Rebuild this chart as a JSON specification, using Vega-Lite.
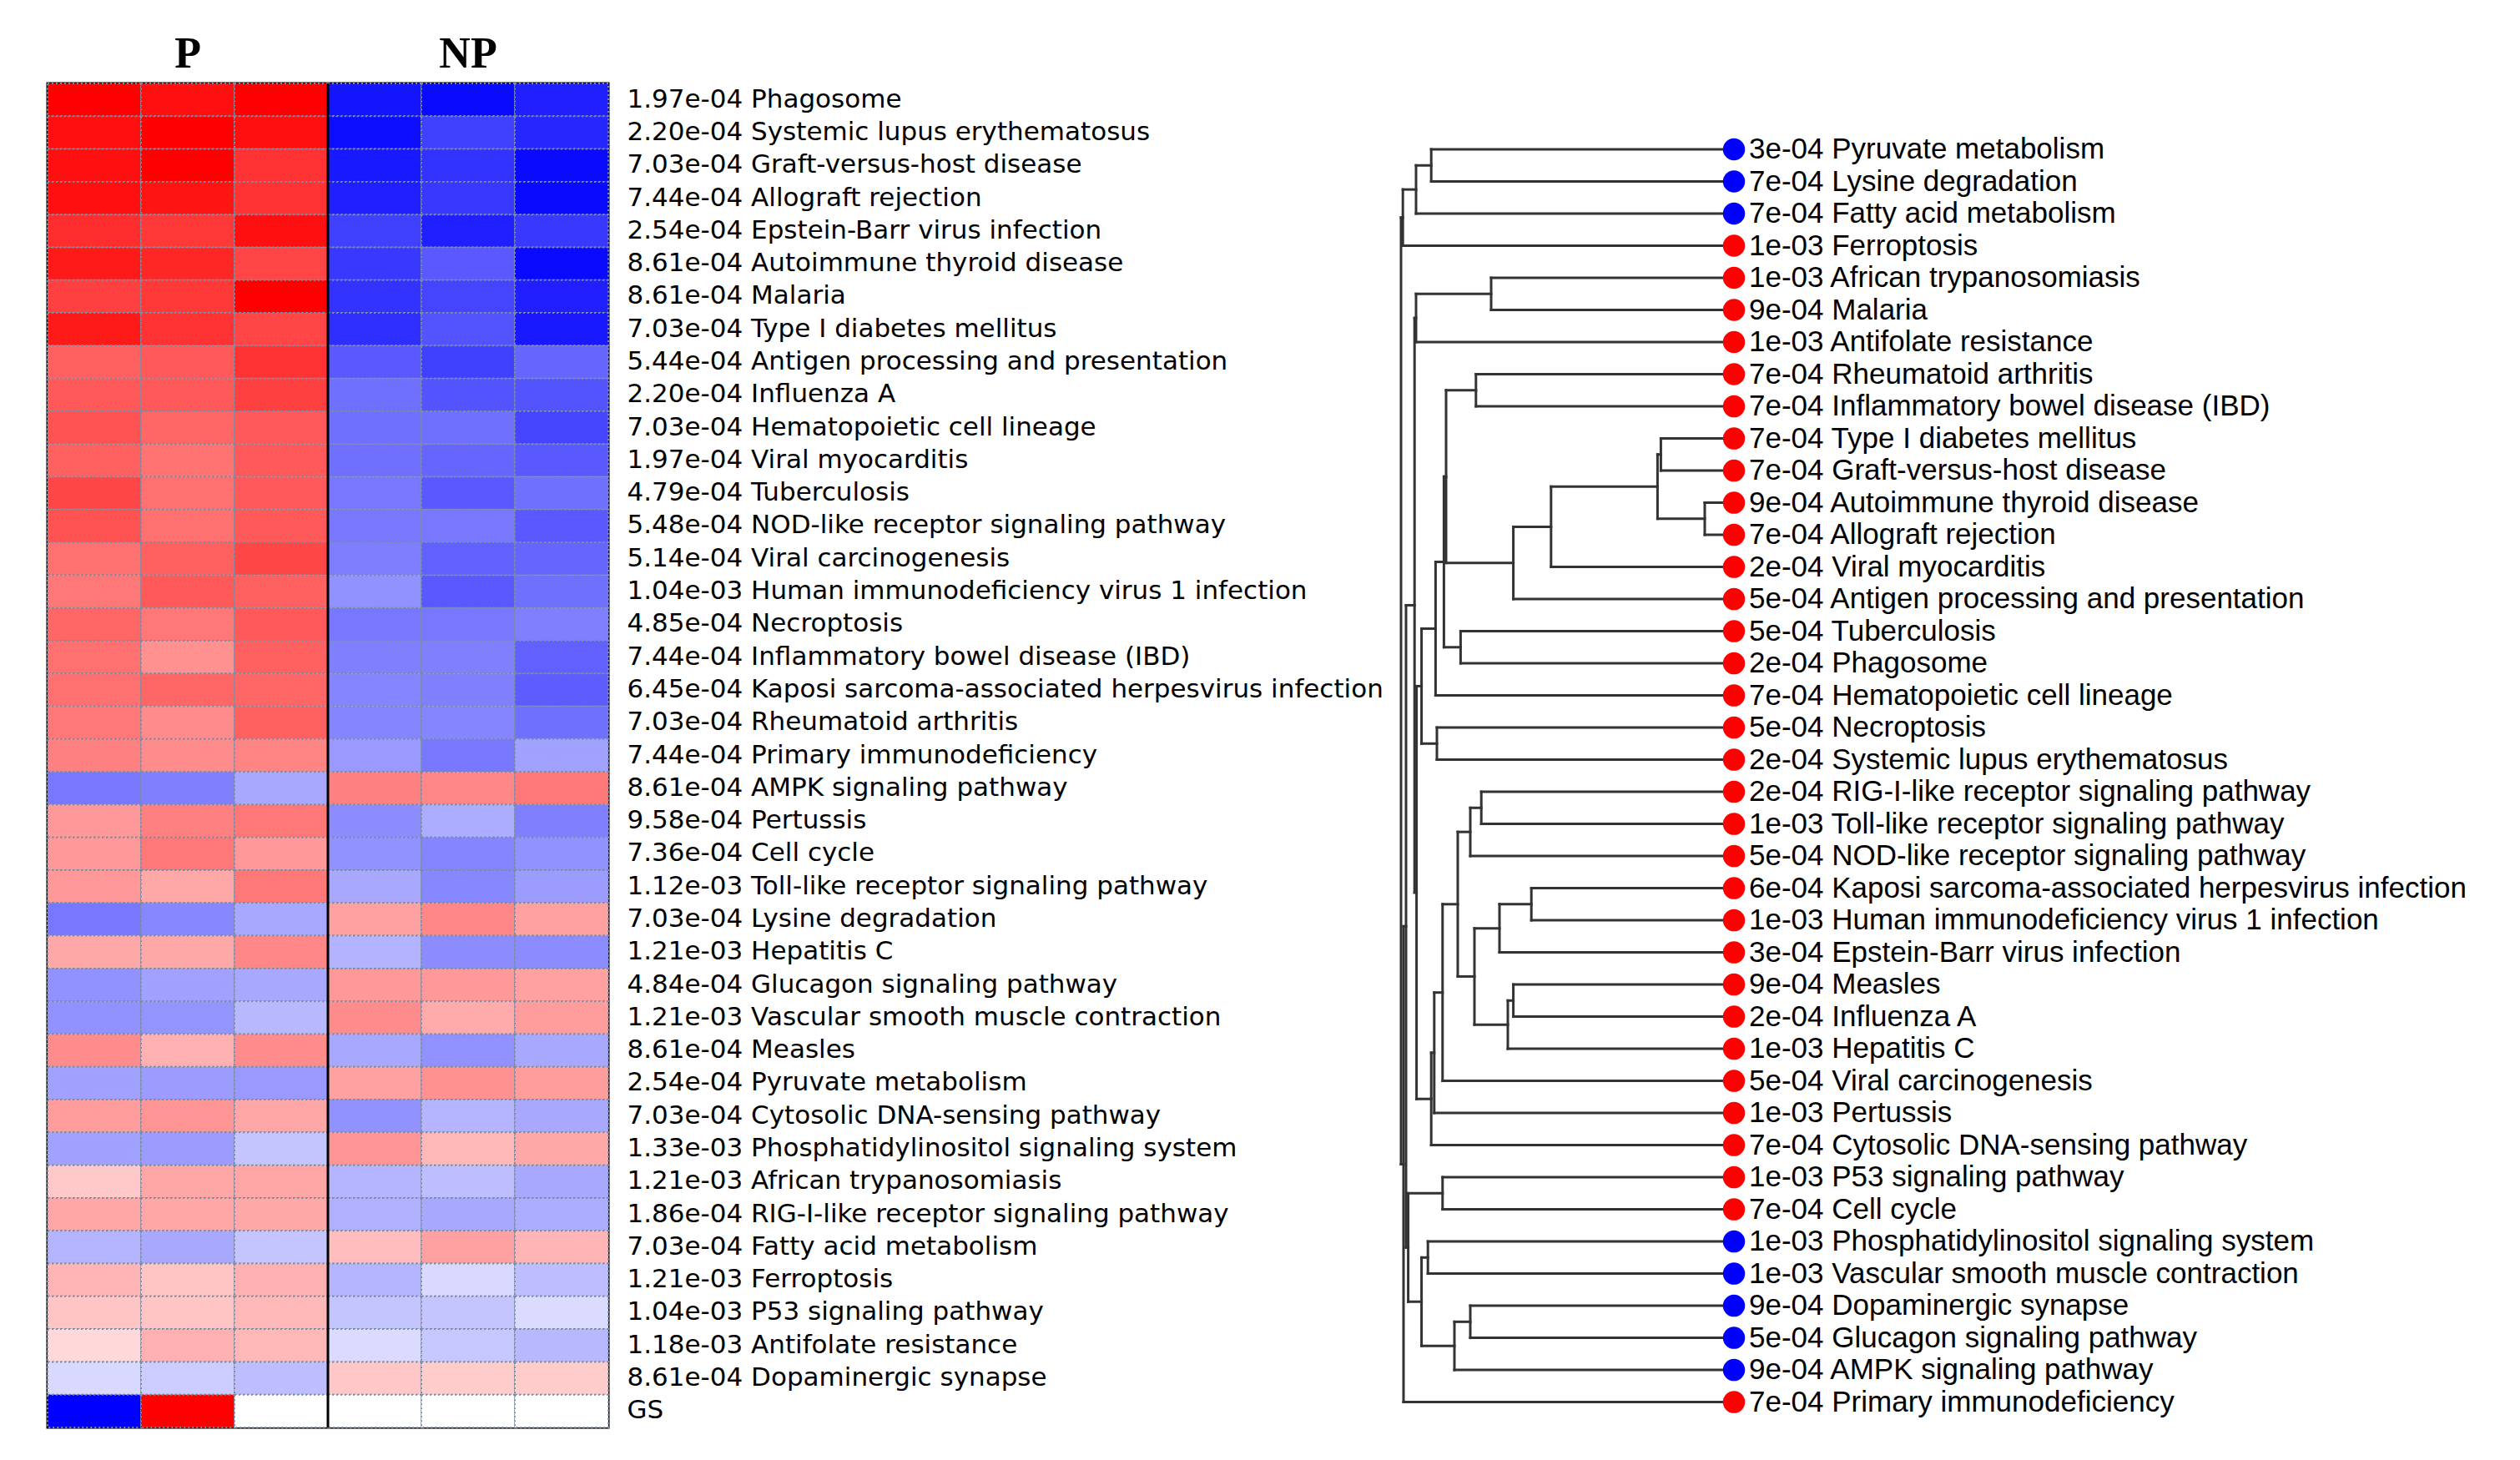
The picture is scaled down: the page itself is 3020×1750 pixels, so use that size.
{
  "$schema": "https://vega.github.io/schema/vega-lite/v6.json",
  "background": "white",
  "padding": {"left": 54, "top": 36, "right": 5, "bottom": 5},
  "bounds": "flush",
  "spacing": 933,
  "config": {"view": {"stroke": null}},
  "datasets": {
    "heat": [
      {"label": "1.97e-04 Phagosome", "P1": 1, "P2": 0.94, "P3": 1, "NP1": -0.92, "NP2": -0.96, "NP3": -0.88},
      {"label": "2.20e-04 Systemic lupus erythematosus", "P1": 0.94, "P2": 1, "P3": 0.94, "NP1": -0.95, "NP2": -0.75, "NP3": -0.85},
      {"label": "7.03e-04 Graft-versus-host disease", "P1": 0.94, "P2": 1, "P3": 0.8, "NP1": -0.9, "NP2": -0.8, "NP3": -0.96},
      {"label": "7.44e-04 Allograft rejection", "P1": 0.94, "P2": 0.92, "P3": 0.8, "NP1": -0.88, "NP2": -0.78, "NP3": -0.96},
      {"label": "2.54e-04 Epstein-Barr virus infection", "P1": 0.82, "P2": 0.78, "P3": 0.94, "NP1": -0.75, "NP2": -0.88, "NP3": -0.78},
      {"label": "8.61e-04 Autoimmune thyroid disease", "P1": 0.9, "P2": 0.85, "P3": 0.73, "NP1": -0.78, "NP2": -0.65, "NP3": -0.96},
      {"label": "8.61e-04 Malaria", "P1": 0.75, "P2": 0.78, "P3": 1, "NP1": -0.8, "NP2": -0.73, "NP3": -0.88},
      {"label": "7.03e-04 Type I diabetes mellitus", "P1": 0.9, "P2": 0.8, "P3": 0.73, "NP1": -0.82, "NP2": -0.67, "NP3": -0.9},
      {"label": "5.44e-04 Antigen processing and presentation", "P1": 0.62, "P2": 0.65, "P3": 0.8, "NP1": -0.65, "NP2": -0.75, "NP3": -0.6},
      {"label": "2.20e-04 Influenza A", "P1": 0.65, "P2": 0.65, "P3": 0.75, "NP1": -0.56, "NP2": -0.67, "NP3": -0.67},
      {"label": "7.03e-04 Hematopoietic cell lineage", "P1": 0.68, "P2": 0.6, "P3": 0.65, "NP1": -0.56, "NP2": -0.56, "NP3": -0.73},
      {"label": "1.97e-04 Viral myocarditis", "P1": 0.62, "P2": 0.55, "P3": 0.65, "NP1": -0.56, "NP2": -0.6, "NP3": -0.65},
      {"label": "4.79e-04 Tuberculosis", "P1": 0.72, "P2": 0.56, "P3": 0.65, "NP1": -0.53, "NP2": -0.65, "NP3": -0.56},
      {"label": "5.48e-04 NOD-like receptor signaling pathway", "P1": 0.68, "P2": 0.56, "P3": 0.65, "NP1": -0.53, "NP2": -0.53, "NP3": -0.65},
      {"label": "5.14e-04 Viral carcinogenesis", "P1": 0.56, "P2": 0.62, "P3": 0.72, "NP1": -0.51, "NP2": -0.62, "NP3": -0.6},
      {"label": "1.04e-03 Human immunodeficiency virus 1 infection", "P1": 0.53, "P2": 0.65, "P3": 0.62, "NP1": -0.43, "NP2": -0.65, "NP3": -0.56},
      {"label": "4.85e-04 Necroptosis", "P1": 0.6, "P2": 0.53, "P3": 0.65, "NP1": -0.53, "NP2": -0.53, "NP3": -0.5},
      {"label": "7.44e-04 Inflammatory bowel disease (IBD)", "P1": 0.56, "P2": 0.43, "P3": 0.62, "NP1": -0.5, "NP2": -0.5, "NP3": -0.62},
      {"label": "6.45e-04 Kaposi sarcoma-associated herpesvirus infection", "P1": 0.56, "P2": 0.6, "P3": 0.6, "NP1": -0.48, "NP2": -0.5, "NP3": -0.64},
      {"label": "7.03e-04 Rheumatoid arthritis", "P1": 0.53, "P2": 0.45, "P3": 0.62, "NP1": -0.48, "NP2": -0.48, "NP3": -0.56},
      {"label": "7.44e-04 Primary immunodeficiency", "P1": 0.5, "P2": 0.45, "P3": 0.48, "NP1": -0.4, "NP2": -0.53, "NP3": -0.37},
      {"label": "8.61e-04 AMPK signaling pathway", "P1": -0.53, "P2": -0.5, "P3": -0.34, "NP1": 0.5, "NP2": 0.47, "NP3": 0.53},
      {"label": "9.58e-04 Pertussis", "P1": 0.4, "P2": 0.5, "P3": 0.53, "NP1": -0.45, "NP2": -0.32, "NP3": -0.5},
      {"label": "7.36e-04 Cell cycle", "P1": 0.4, "P2": 0.53, "P3": 0.4, "NP1": -0.43, "NP2": -0.48, "NP3": -0.43},
      {"label": "1.12e-03 Toll-like receptor signaling pathway", "P1": 0.4, "P2": 0.34, "P3": 0.53, "NP1": -0.34, "NP2": -0.47, "NP3": -0.39},
      {"label": "7.03e-04 Lysine degradation", "P1": -0.53, "P2": -0.47, "P3": -0.34, "NP1": 0.37, "NP2": 0.47, "NP3": 0.37},
      {"label": "1.21e-03 Hepatitis C", "P1": 0.34, "P2": 0.34, "P3": 0.47, "NP1": -0.3, "NP2": -0.45, "NP3": -0.45},
      {"label": "4.84e-04 Glucagon signaling pathway", "P1": -0.43, "P2": -0.37, "P3": -0.34, "NP1": 0.4, "NP2": 0.4, "NP3": 0.37},
      {"label": "1.21e-03 Vascular smooth muscle contraction", "P1": -0.43, "P2": -0.42, "P3": -0.28, "NP1": 0.45, "NP2": 0.33, "NP3": 0.39},
      {"label": "8.61e-04 Measles", "P1": 0.45, "P2": 0.31, "P3": 0.45, "NP1": -0.34, "NP2": -0.43, "NP3": -0.34},
      {"label": "2.54e-04 Pyruvate metabolism", "P1": -0.37, "P2": -0.39, "P3": -0.4, "NP1": 0.37, "NP2": 0.43, "NP3": 0.39},
      {"label": "7.03e-04 Cytosolic DNA-sensing pathway", "P1": 0.39, "P2": 0.42, "P3": 0.35, "NP1": -0.43, "NP2": -0.29, "NP3": -0.34},
      {"label": "1.33e-03 Phosphatidylinositol signaling system", "P1": -0.37, "P2": -0.39, "P3": -0.23, "NP1": 0.42, "NP2": 0.28, "NP3": 0.34},
      {"label": "1.21e-03 African trypanosomiasis", "P1": 0.21, "P2": 0.35, "P3": 0.35, "NP1": -0.29, "NP2": -0.26, "NP3": -0.34},
      {"label": "1.86e-04 RIG-I-like receptor signaling pathway", "P1": 0.35, "P2": 0.35, "P3": 0.34, "NP1": -0.31, "NP2": -0.34, "NP3": -0.32},
      {"label": "7.03e-04 Fatty acid metabolism", "P1": -0.29, "P2": -0.34, "P3": -0.23, "NP1": 0.26, "NP2": 0.37, "NP3": 0.29},
      {"label": "1.21e-03 Ferroptosis", "P1": 0.29, "P2": 0.23, "P3": 0.31, "NP1": -0.29, "NP2": -0.15, "NP3": -0.26},
      {"label": "1.04e-03 P53 signaling pathway", "P1": 0.23, "P2": 0.23, "P3": 0.28, "NP1": -0.23, "NP2": -0.23, "NP3": -0.14},
      {"label": "1.18e-03 Antifolate resistance", "P1": 0.15, "P2": 0.31, "P3": 0.28, "NP1": -0.14, "NP2": -0.22, "NP3": -0.28},
      {"label": "8.61e-04 Dopaminergic synapse", "P1": -0.15, "P2": -0.2, "P3": -0.26, "NP1": 0.22, "NP2": 0.2, "NP3": 0.2},
      {"label": "GS", "P1": -1, "P2": 1, "P3": 0, "NP1": 0, "NP2": 0, "NP3": 0}
    ],
    "leaves": [
      {"pos": 1, "label": "3e-04 Pyruvate metabolism", "dir": "down"},
      {"pos": 2, "label": "7e-04 Lysine degradation", "dir": "down"},
      {"pos": 3, "label": "7e-04 Fatty acid metabolism", "dir": "down"},
      {"pos": 4, "label": "1e-03 Ferroptosis", "dir": "up"},
      {"pos": 5, "label": "1e-03 African trypanosomiasis", "dir": "up"},
      {"pos": 6, "label": "9e-04 Malaria", "dir": "up"},
      {"pos": 7, "label": "1e-03 Antifolate resistance", "dir": "up"},
      {"pos": 8, "label": "7e-04 Rheumatoid arthritis", "dir": "up"},
      {"pos": 9, "label": "7e-04 Inflammatory bowel disease (IBD)", "dir": "up"},
      {"pos": 10, "label": "7e-04 Type I diabetes mellitus", "dir": "up"},
      {"pos": 11, "label": "7e-04 Graft-versus-host disease", "dir": "up"},
      {"pos": 12, "label": "9e-04 Autoimmune thyroid disease", "dir": "up"},
      {"pos": 13, "label": "7e-04 Allograft rejection", "dir": "up"},
      {"pos": 14, "label": "2e-04 Viral myocarditis", "dir": "up"},
      {"pos": 15, "label": "5e-04 Antigen processing and presentation", "dir": "up"},
      {"pos": 16, "label": "5e-04 Tuberculosis", "dir": "up"},
      {"pos": 17, "label": "2e-04 Phagosome", "dir": "up"},
      {"pos": 18, "label": "7e-04 Hematopoietic cell lineage", "dir": "up"},
      {"pos": 19, "label": "5e-04 Necroptosis", "dir": "up"},
      {"pos": 20, "label": "2e-04 Systemic lupus erythematosus", "dir": "up"},
      {"pos": 21, "label": "2e-04 RIG-I-like receptor signaling pathway", "dir": "up"},
      {"pos": 22, "label": "1e-03 Toll-like receptor signaling pathway", "dir": "up"},
      {"pos": 23, "label": "5e-04 NOD-like receptor signaling pathway", "dir": "up"},
      {"pos": 24, "label": "6e-04 Kaposi sarcoma-associated herpesvirus infection", "dir": "up"},
      {"pos": 25, "label": "1e-03 Human immunodeficiency virus 1 infection", "dir": "up"},
      {"pos": 26, "label": "3e-04 Epstein-Barr virus infection", "dir": "up"},
      {"pos": 27, "label": "9e-04 Measles", "dir": "up"},
      {"pos": 28, "label": "2e-04 Influenza A", "dir": "up"},
      {"pos": 29, "label": "1e-03 Hepatitis C", "dir": "up"},
      {"pos": 30, "label": "5e-04 Viral carcinogenesis", "dir": "up"},
      {"pos": 31, "label": "1e-03 Pertussis", "dir": "up"},
      {"pos": 32, "label": "7e-04 Cytosolic DNA-sensing pathway", "dir": "up"},
      {"pos": 33, "label": "1e-03 P53 signaling pathway", "dir": "up"},
      {"pos": 34, "label": "7e-04 Cell cycle", "dir": "up"},
      {"pos": 35, "label": "1e-03 Phosphatidylinositol signaling system", "dir": "down"},
      {"pos": 36, "label": "1e-03 Vascular smooth muscle contraction", "dir": "down"},
      {"pos": 37, "label": "9e-04 Dopaminergic synapse", "dir": "down"},
      {"pos": 38, "label": "5e-04 Glucagon signaling pathway", "dir": "down"},
      {"pos": 39, "label": "9e-04 AMPK signaling pathway", "dir": "down"},
      {"pos": 40, "label": "7e-04 Primary immunodeficiency", "dir": "up"}
    ],
    "nodes": [
      {"h": 90.7, "y1": 1, "h1": 0, "y2": 2, "h2": 0},
      {"h": 95.25, "y1": 1.5, "h1": 90.7, "y2": 3, "h2": 0},
      {"h": 99.2, "y1": 2.25, "h1": 95.25, "y2": 4, "h2": 0},
      {"h": 72.75, "y1": 5, "h1": 0, "y2": 6, "h2": 0},
      {"h": 95.25, "y1": 5.5, "h1": 72.75, "y2": 7, "h2": 0},
      {"h": 77.3, "y1": 8, "h1": 0, "y2": 9, "h2": 0},
      {"h": 21.9, "y1": 10, "h1": 0, "y2": 11, "h2": 0},
      {"h": 8.75, "y1": 12, "h1": 0, "y2": 13, "h2": 0},
      {"h": 22.9, "y1": 10.5, "h1": 21.9, "y2": 12.5, "h2": 8.75},
      {"h": 54.8, "y1": 11.5, "h1": 22.9, "y2": 14, "h2": 0},
      {"h": 66.1, "y1": 12.75, "h1": 54.8, "y2": 15, "h2": 0},
      {"h": 86.25, "y1": 8.5, "h1": 77.3, "y2": 13.875, "h2": 66.1},
      {"h": 81.9, "y1": 16, "h1": 0, "y2": 17, "h2": 0},
      {"h": 86.9, "y1": 11.188, "h1": 86.25, "y2": 16.5, "h2": 81.9},
      {"h": 89.4, "y1": 13.844, "h1": 86.9, "y2": 18, "h2": 0},
      {"h": 89.0, "y1": 19, "h1": 0, "y2": 20, "h2": 0},
      {"h": 93.6, "y1": 15.922, "h1": 89.4, "y2": 19.5, "h2": 89.0},
      {"h": 75.7, "y1": 21, "h1": 0, "y2": 22, "h2": 0},
      {"h": 79, "y1": 21.5, "h1": 75.7, "y2": 23, "h2": 0},
      {"h": 60.7, "y1": 24, "h1": 0, "y2": 25, "h2": 0},
      {"h": 70.25, "y1": 24.5, "h1": 60.7, "y2": 26, "h2": 0},
      {"h": 66.1, "y1": 27, "h1": 0, "y2": 28, "h2": 0},
      {"h": 67.75, "y1": 27.5, "h1": 66.1, "y2": 29, "h2": 0},
      {"h": 77.75, "y1": 25.25, "h1": 70.25, "y2": 28.25, "h2": 67.75},
      {"h": 82.75, "y1": 22.25, "h1": 79, "y2": 26.75, "h2": 77.75},
      {"h": 87.3, "y1": 24.5, "h1": 82.75, "y2": 30, "h2": 0},
      {"h": 89.8, "y1": 27.25, "h1": 87.3, "y2": 31, "h2": 0},
      {"h": 90.7, "y1": 29.125, "h1": 89.8, "y2": 32, "h2": 0},
      {"h": 95.1, "y1": 17.711, "h1": 93.6, "y2": 30.563, "h2": 90.7},
      {"h": 95.7, "y1": 6.25, "h1": 95.25, "y2": 24.137, "h2": 95.1},
      {"h": 87.3, "y1": 33, "h1": 0, "y2": 34, "h2": 0},
      {"h": 91.7, "y1": 35, "h1": 0, "y2": 36, "h2": 0},
      {"h": 79, "y1": 37, "h1": 0, "y2": 38, "h2": 0},
      {"h": 83.75, "y1": 37.5, "h1": 79, "y2": 39, "h2": 0},
      {"h": 93.6, "y1": 35.5, "h1": 91.7, "y2": 38.25, "h2": 83.75},
      {"h": 97.6, "y1": 33.5, "h1": 87.3, "y2": 36.875, "h2": 93.6},
      {"h": 98.25, "y1": 15.193, "h1": 95.7, "y2": 35.188, "h2": 97.6},
      {"h": 99.0, "y1": 25.19, "h1": 98.25, "y2": 40, "h2": 0},
      {"h": 99.75, "y1": 3.125, "h1": 99.2, "y2": 32.595, "h2": 99.0}
    ]
  },
  "hconcat": [
    {
      "width": 672,
      "height": 1611,
      "view": {"stroke": "black", "strokeWidth": 3},
      "layer": [
        {
          "data": {"name": "heat"},
          "transform": [{"fold": ["P1", "P2", "P3", "NP1", "NP2", "NP3"], "as": ["sample", "value"]}],
          "mark": {"type": "rect", "stroke": "#7b8da2", "strokeWidth": 2, "strokeDash": [2, 3]},
          "encoding": {
            "x": {
              "field": "sample", "type": "nominal",
              "sort": ["P1", "P2", "P3", "NP1", "NP2", "NP3"],
              "scale": {"paddingInner": 0, "paddingOuter": 0},
              "axis": {
                "orient": "top", "values": ["P2", "NP2"],
                "labelExpr": "datum.value == 'P2' ? 'P' : 'NP'",
                "title": null, "ticks": false, "domain": false, "labelAngle": 0,
                "labelFont": "Liberation Serif", "labelFontWeight": "bold", "labelFontSize": 52,
                "labelColor": "black", "labelPadding": 20, "labelBaseline": "alphabetic"
              }
            },
            "y": {
              "field": "label", "type": "nominal", "sort": null,
              "scale": {"paddingInner": 0, "paddingOuter": 0},
              "axis": {
                "orient": "right", "title": null, "ticks": false, "domain": false,
                "labelFont": "DejaVu Sans", "labelFontSize": 31, "labelColor": "black",
                "labelPadding": 22, "labelLimit": 915, "labelOverlap": false
              }
            },
            "color": {
              "field": "value", "type": "quantitative",
              "scale": {"type": "linear", "domain": [-1, 0, 1], "range": ["#0000ff", "#ffffff", "#ff0000"], "interpolate": "rgb", "zero": false, "nice": false},
              "legend": null
            }
          }
        },
        {
          "data": {"values": [{"sample": "NP1"}]},
          "mark": {"type": "rule", "color": "black", "strokeWidth": 3},
          "encoding": {
            "x": {"field": "sample", "type": "nominal", "sort": ["P1", "P2", "P3", "NP1", "NP2", "NP3"], "bandPosition": 0}
          }
        }
      ]
    },
    {
      "width": 416,
      "height": 1611,
      "view": {"stroke": null},
      "layer": [
        {
          "data": {"name": "nodes"},
          "mark": {"type": "rule", "color": "#333333", "strokeWidth": 3, "strokeCap": "square"},
          "encoding": {
            "x": {"field": "h", "type": "quantitative", "scale": {"domain": [104, 0], "nice": false, "zero": false}, "axis": null},
            "y": {"field": "y1", "type": "quantitative", "scale": {"domain": [-1.052, 40.79], "reverse": true, "nice": false, "zero": false}, "axis": null},
            "y2": {"field": "y2"}
          }
        },
        {
          "data": {"name": "nodes"},
          "mark": {"type": "rule", "color": "#333333", "strokeWidth": 3, "strokeCap": "square"},
          "encoding": {
            "x": {"field": "h", "type": "quantitative", "scale": {"domain": [104, 0], "nice": false, "zero": false}, "axis": null},
            "x2": {"field": "h1"},
            "y": {"field": "y1", "type": "quantitative", "scale": {"domain": [-1.052, 40.79], "reverse": true, "nice": false, "zero": false}, "axis": null}
          }
        },
        {
          "data": {"name": "nodes"},
          "mark": {"type": "rule", "color": "#333333", "strokeWidth": 3, "strokeCap": "square"},
          "encoding": {
            "x": {"field": "h", "type": "quantitative", "scale": {"domain": [104, 0], "nice": false, "zero": false}, "axis": null},
            "x2": {"field": "h2"},
            "y": {"field": "y2", "type": "quantitative", "scale": {"domain": [-1.052, 40.79], "reverse": true, "nice": false, "zero": false}, "axis": null}
          }
        },
        {
          "data": {"name": "leaves"},
          "mark": {"type": "circle", "size": 700, "opacity": 1},
          "encoding": {
            "x": {"datum": 0, "type": "quantitative", "scale": {"domain": [104, 0], "nice": false, "zero": false}, "axis": null},
            "y": {"field": "pos", "type": "quantitative", "scale": {"domain": [-1.052, 40.79], "reverse": true, "nice": false, "zero": false}, "axis": null},
            "color": {"field": "dir", "type": "nominal", "scale": {"domain": ["up", "down"], "range": ["#ff0000", "#0000ff"]}, "legend": null}
          }
        },
        {
          "data": {"name": "leaves"},
          "mark": {"type": "text", "align": "left", "baseline": "middle", "dx": 18, "font": "Liberation Sans", "fontSize": 35, "color": "black"},
          "encoding": {
            "x": {"datum": 0, "type": "quantitative", "scale": {"domain": [104, 0], "nice": false, "zero": false}, "axis": null},
            "y": {"field": "pos", "type": "quantitative", "scale": {"domain": [-1.052, 40.79], "reverse": true, "nice": false, "zero": false}, "axis": null},
            "text": {"field": "label"}
          }
        }
      ]
    }
  ]
}
